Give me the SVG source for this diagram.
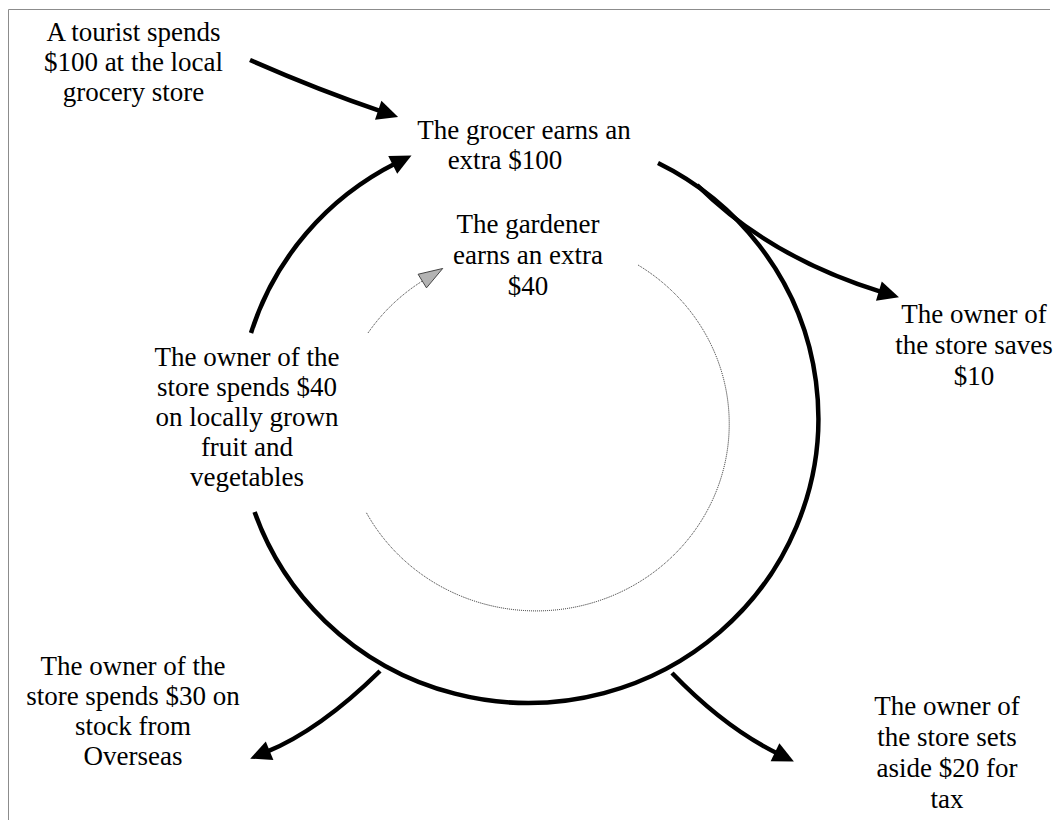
<svg xmlns="http://www.w3.org/2000/svg" width="1059" height="820" viewBox="0 0 1059 820">
<style>
  text { font-family: "Liberation Serif", "Times New Roman", serif; font-size: 27px; fill: #000; text-anchor: middle; }
  .thick { fill: none; stroke: #000; stroke-width: 4.5; }
  .dotted { fill: none; stroke: #222; stroke-width: 1; stroke-dasharray: 1 1; }
  .border { fill: none; stroke: #8c8c8c; stroke-width: 1; }
</style>
<defs>
  <marker id="ah" markerUnits="userSpaceOnUse" markerWidth="24" markerHeight="22" refX="4" refY="10" orient="auto" overflow="visible">
    <path d="M0,0 L21,10 L0,20 z" fill="#000"/>
  </marker>
  <marker id="ahg" markerUnits="userSpaceOnUse" markerWidth="26" markerHeight="18" refX="2" refY="8" orient="auto" overflow="visible">
    <path d="M0,0 L24,8 L0,16 z" fill="#b3b3b3" stroke="#333" stroke-width="0.8"/>
  </marker>
</defs>
<path class="border" d="M8.5,820 L8.5,9.5 L1050,9.5"/>
<g id="connectors">
  <path class="thick" d="M250,60 Q318,90 382,111.6" marker-end="url(#ah)"/>
  <path class="thick" d="M658,163 A290,285 0 1 1 254.6,512"/>
  <path class="thick" d="M251,333 A290,285 0 0 1 396.3,163.1" marker-end="url(#ah)"/>
  <path class="thick" d="M697,185 Q770,258 882.7,292.3" marker-end="url(#ah)"/>
  <path class="thick" d="M672,673 Q725,728 778.6,754" marker-end="url(#ah)"/>
  <path class="thick" d="M380,671 Q320,730 265.9,752.2" marker-end="url(#ah)"/>
  <path class="dotted" d="M638,265 A193,187 0 1 1 366,512"/>
  <path class="dotted" d="M368,333 A190,185 0 0 1 424,280" marker-end="url(#ahg)"/>
</g>
<g id="tourist">
  <text x="133.5" y="41">A tourist spends</text>
  <text x="133.5" y="71">$100 at the local</text>
  <text x="133.5" y="101">grocery store</text>
</g>
<g id="grocer">
  <text x="524" y="139">The grocer earns an</text>
  <text x="505" y="169">extra $100</text>
</g>
<g id="gardener">
  <text x="528" y="233">The gardener</text>
  <text x="528" y="264">earns an extra</text>
  <text x="528" y="295">$40</text>
</g>
<g id="local-spend">
  <text x="247" y="366">The owner of the</text>
  <text x="247" y="396">store spends $40</text>
  <text x="247" y="426">on locally grown</text>
  <text x="247" y="456">fruit and</text>
  <text x="247" y="486">vegetables</text>
</g>
<g id="saves">
  <text x="974" y="323">The owner of</text>
  <text x="974" y="354">the store saves</text>
  <text x="974" y="385">$10</text>
</g>
<g id="overseas">
  <text x="133" y="675">The owner of the</text>
  <text x="133" y="705">store spends $30 on</text>
  <text x="133" y="735">stock from</text>
  <text x="133" y="765">Overseas</text>
</g>
<g id="tax">
  <text x="947" y="715">The owner of</text>
  <text x="947" y="746">the store sets</text>
  <text x="947" y="777">aside $20 for</text>
  <text x="947" y="808">tax</text>
</g>
</svg>
